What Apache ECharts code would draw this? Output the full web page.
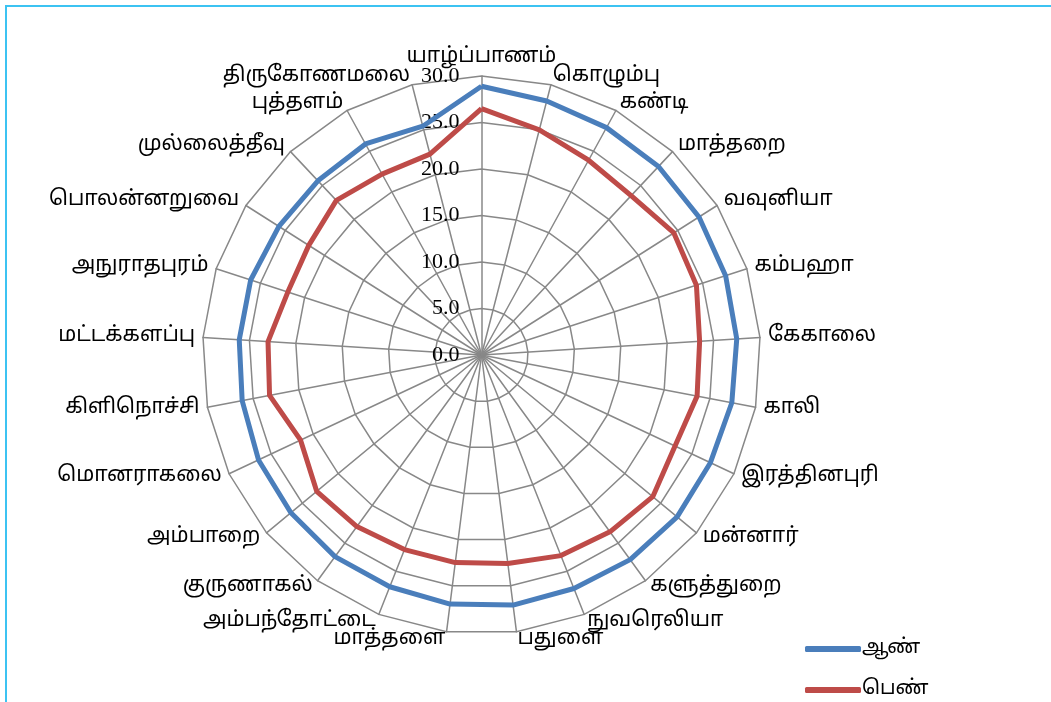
<!DOCTYPE html>
<html>
<head>
<meta charset="utf-8">
<script src="https://cdn.jsdelivr.net/npm/echarts@6/dist/echarts.min.js"></script>
<style>
html,body{margin:0;padding:0;background:#fff;}
#frame{position:absolute;left:5px;top:5px;width:1046px;height:697px;border-top:2px solid #3cc3f2;border-left:2px solid #3cc3f2;box-sizing:border-box;}
#chart{position:absolute;left:0;top:0;width:1051px;height:702px;}
</style>
</head>
<body>
<div id="frame"></div>
<div id="chart"></div>
<script>
const categories = ['யாழ்ப்பாணம்','கொழும்பு','கண்டி','மாத்தறை','வவுனியா','கம்பஹா','கேகாலை','காலி','இரத்தினபுரி','மன்னார்','களுத்துறை','நுவரெலியா','பதுளை','மாத்தளை','அம்பந்தோட்டை','குருணாகல்','அம்பாறை','மொனராகலை','கிளிநொச்சி','மட்டக்களப்பு','அநுராதபுரம்','பொலன்னறுவை','முல்லைத்தீவு','புத்தளம்','திருகோணமலை'];
const seriesNames = ['ஆண்','பெண்'];
const maleValues = [28.9,28.2,27.9,27.8,27.7,27.6,27.5,27.4,27.2,27.3,27.2,27.0,27.1,27.0,26.8,26.8,26.6,26.5,26.2,26.1,26.1,25.8,25.7,25.9,25.4];
const femaleValues = [26.5,25.0,23.9,23.5,24.5,24.3,23.5,23.6,23.0,23.9,23.5,23.2,22.6,22.5,22.5,22.8,23.0,21.5,23.2,23.0,21.9,22.0,22.8,22.2,22.3];
const tickLabels = ['0.0','5.0','10.0','15.0','20.0','25.0','30.0'];
const axisMax = 30;

// ECharts radar runs counter-clockwise; reorder so categories go clockwise from the top
const cw = (arr) => [arr[0]].concat(arr.slice(1).reverse());

const chart = echarts.init(document.getElementById('chart'), null, {renderer:'canvas'});
const tamilFont = '"Noto Sans Tamil","Latha","Lohit Tamil","Noto Sans",sans-serif';
const legendBase = {
  orient:'vertical',left:800,itemWidth:56,itemHeight:6,
  icon:'roundRect',
  textStyle:{color:'#000',fontSize:20,fontFamily:tamilFont,padding:[0,0,0,-4]}
};
chart.setOption({
  animation:false,
  backgroundColor:'transparent',
  radar:{
    center:[481.5,355],
    radius:279,
    startAngle:90,
    shape:'polygon',
    splitNumber:6,
    indicator:cw(categories).map(n=>({name:n,min:0,max:axisMax})),
    axisName:{color:'#000',fontSize:21,fontFamily:tamilFont},
    nameGap:8,
    axisLine:{lineStyle:{color:'#888',width:1.5}},
    splitLine:{lineStyle:{color:'#888',width:1.5}},
    splitArea:{show:false},
    axisTick:{show:false},
    axisLabel:{show:false}
  },
  polar:{center:[481.5,355],radius:279},
  angleAxis:{type:'value',startAngle:90,min:0,max:360,show:false},
  radiusAxis:{type:'value',min:0,max:axisMax,interval:5,
    axisLine:{show:false},axisTick:{show:false},splitLine:{show:false},
    axisLabel:{show:true,color:'#000',fontSize:22,fontFamily:'"Liberation Serif","Times New Roman",serif',
      margin:22,verticalAlign:'middle',
      formatter:(v)=>tickLabels[Math.round(v/5)]}},
  legend:[
    Object.assign({top:634,data:[seriesNames[0]]},legendBase),
    Object.assign({top:675,data:[seriesNames[1]]},legendBase)
  ],
  series:[{
    type:'radar',
    symbol:'none',
    data:[
      {name:seriesNames[0],value:cw(maleValues),lineStyle:{color:'#4a7ebb',width:5},itemStyle:{color:'#4a7ebb'}},
      {name:seriesNames[1],value:cw(femaleValues),lineStyle:{color:'#be4b48',width:5},itemStyle:{color:'#be4b48'}}
    ]
  }]
});
</script>
</body>
</html>
